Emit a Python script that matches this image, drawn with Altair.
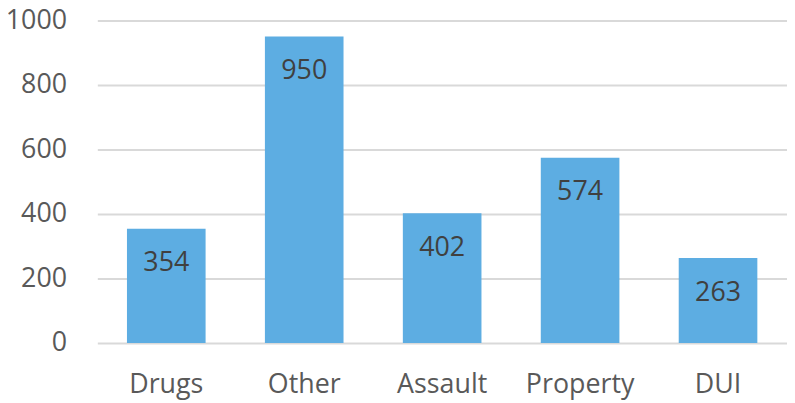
import altair as alt
import pandas as pd

categories = ["Drugs", "Other", "Assault", "Property", "DUI"]
values = [354, 950, 402, 574, 263]

df = pd.DataFrame({"category": categories, "value": values})

FONT = "Open Sans"

base = alt.Chart(df).encode(
    x=alt.X("category:N", sort=categories, title=None,
            scale=alt.Scale(paddingInner=0.43, paddingOuter=0.215),
            axis=alt.Axis(labelAngle=0, ticks=False, domain=False, grid=False,
                          labelFontSize=27, labelFont=FONT, labelColor="#595959",
                          labelPadding=29)),
    y=alt.Y("value:Q", title=None,
            scale=alt.Scale(domain=[0, 1000], nice=False),
            axis=alt.Axis(values=[0, 200, 400, 600, 800, 1000], ticks=False, domain=False,
                          format="d",
                          gridColor="#d9d9d9", gridWidth=2,
                          labelFontSize=27, labelFont=FONT, labelColor="#595959",
                          labelPadding=31)),
)

bars = base.mark_bar(color="#5DADE2")
labels = base.mark_text(dy=35, baseline="middle", align="center", fontSize=27,
                        font=FONT, color="#404040").encode(text="value:Q")

chart = (bars + labels).properties(
    width=695, height=325,
    autosize=alt.AutoSizeParams(type="none"),
    padding={"left": 90, "top": 11, "right": 0, "bottom": 58},
).configure_view(stroke=None)

chart.save("out.html", embed_options={"renderer": "svg", "actions": False})
